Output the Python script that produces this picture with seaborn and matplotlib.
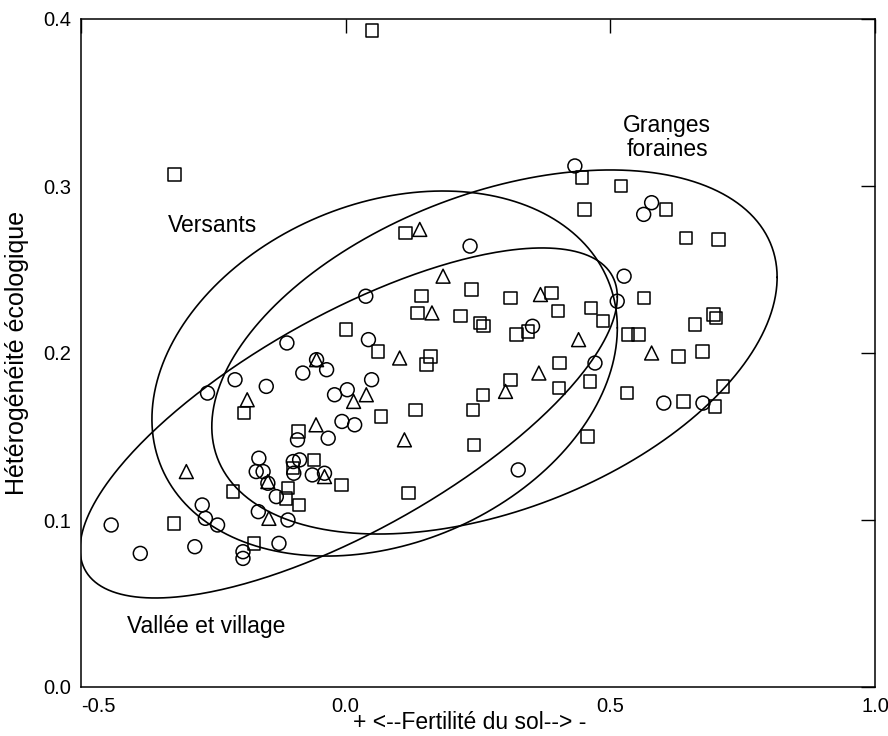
import numpy as np
import pandas as pd
import matplotlib
matplotlib.use('Agg')
import matplotlib.pyplot as plt
import seaborn as sns

# points
circle_x = [0.433, 0.578, 0.563, 0.235, 0.526, 0.038, 0.513, 0.353, 0.043, -0.111,
            -0.055, -0.081, -0.036, -0.209, -0.150, -0.261, 0.049, -0.021, 0.003, 0.471,
            0.601, 0.675, -0.091, -0.033, -0.007, 0.017, -0.164, -0.169, -0.156, -0.099,
            -0.087, -0.098, -0.063, -0.040, -0.131, -0.271, -0.165, -0.109, -0.265, -0.242,
            -0.443, -0.126, -0.285, -0.388, -0.194, -0.194, 0.326, -0.147]
circle_y = [0.312, 0.290, 0.283, 0.264, 0.246, 0.234, 0.231, 0.216, 0.208, 0.206,
            0.196, 0.188, 0.190, 0.184, 0.180, 0.176, 0.184, 0.175, 0.178, 0.194,
            0.170, 0.170, 0.148, 0.149, 0.159, 0.157, 0.137, 0.129, 0.129, 0.135,
            0.136, 0.128, 0.127, 0.128, 0.114, 0.109, 0.105, 0.100, 0.101, 0.097,
            0.097, 0.086, 0.084, 0.080, 0.081, 0.077, 0.130, 0.122]

square_x = [0.050, -0.323, 0.113, 0.446, 0.520, 0.451, 0.605, 0.643, 0.704, 0.143,
            0.238, 0.311, 0.389, 0.136, 0.217, 0.254, 0.260, 0.401, 0.464, 0.486,
            0.564, 0.001, 0.323, 0.345, 0.533, 0.553, 0.660, 0.695, 0.700, 0.061,
            0.160, 0.153, 0.629, 0.674, 0.404, 0.311, 0.259, 0.241, 0.067, 0.132,
            0.403, 0.462, 0.532, 0.638, 0.698, 0.713, -0.192, -0.089, 0.242, 0.457,
            -0.060, -0.099, -0.109, -0.113, -0.088, -0.008, 0.119, -0.213, -0.324, -0.173]
square_y = [0.393, 0.307, 0.272, 0.305, 0.300, 0.286, 0.286, 0.269, 0.268, 0.234,
            0.238, 0.233, 0.236, 0.224, 0.222, 0.218, 0.216, 0.225, 0.227, 0.219,
            0.233, 0.214, 0.211, 0.213, 0.211, 0.211, 0.217, 0.223, 0.221, 0.201,
            0.198, 0.193, 0.198, 0.201, 0.194, 0.184, 0.175, 0.166, 0.162, 0.166,
            0.179, 0.183, 0.176, 0.171, 0.168, 0.180, 0.164, 0.153, 0.145, 0.150,
            0.136, 0.131, 0.119, 0.113, 0.109, 0.121, 0.116, 0.117, 0.098, 0.086]

triangle_x = [0.140, 0.184, 0.163, 0.368, 0.440, 0.578, 0.102, -0.055, 0.015, 0.039,
              -0.186, 0.365, 0.302, -0.056, 0.111, -0.301, -0.147, -0.040, -0.145]
triangle_y = [0.274, 0.246, 0.224, 0.235, 0.208, 0.200, 0.197, 0.196, 0.171, 0.175,
              0.172, 0.188, 0.177, 0.157, 0.148, 0.129, 0.123, 0.126, 0.101]

# group ellipses: centre, half extent in x and y, correlation
ell_names = ['Vallée et village', 'Versants', 'Granges foraines']
ell_cx = [0.0057, 0.0736, 0.2811]
ell_cy = [0.1581, 0.1877, 0.2006]
ell_sx = [0.5075, 0.4396, 0.534]
ell_sy = [0.1048, 0.1093, 0.109]
ell_rho = [0.72, 0.25, 0.41]

x_ticks = [-0.5, 0.0, 0.5, 1.0]
x_ticklabels = ['-0.5', '0.0', '0.5', '1.0']
y_ticks = [0.0, 0.1, 0.2, 0.3, 0.4]
y_ticklabels = ['0.0', '0.1', '0.2', '0.3', '0.4']

sns.set_theme(style='white')
plt.rcParams['font.family'] = ['Liberation Sans', 'DejaVu Sans']

fig = plt.figure(figsize=(8.88, 7.36), dpi=100)
ax = fig.add_axes([81/888, 49/736, 794/888, 668/736])

groups = [
    (circle_x, circle_y, 'o', 100),
    (square_x, square_y, 's', 80),
    (triangle_x, triangle_y, '^', 100),
]
for gx, gy, mk, size in groups:
    df = pd.DataFrame({'x': gx, 'y': gy})
    sns.scatterplot(data=df, x='x', y='y', marker=mk, s=size,
                    facecolors='none', edgecolor='black', linewidth=1.1, ax=ax)
for coll in ax.collections:
    coll.set_facecolor('none')
    coll.set_edgecolor('black')

t = np.linspace(0, 2 * np.pi, 400)
for cx, cy, sx, sy, r in zip(ell_cx, ell_cy, ell_sx, ell_sy, ell_rho):
    ex = cx + sx * np.cos(t)
    ey = cy + sy * (r * np.cos(t) + np.sqrt(1 - r * r) * np.sin(t))
    ax.plot(ex, ey, color='black', lw=1.2)

ax.text(-0.336, 0.2725, 'Versants', fontsize=16.5, color='black')
ax.text(0.6075, 0.329, 'Granges\nforaines', ha='center', va='center',
        fontsize=16.5, linespacing=1.1, color='black')
ax.text(-0.413, 0.0323, 'Vallée et village', fontsize=16.5, color='black')

ax.set_xlim(-0.5, 1.0)
ax.set_ylim(0, 0.4)
ax.set_xticks(x_ticks)
ax.set_xticklabels(x_ticklabels)
ax.set_yticks(y_ticks)
ax.set_yticklabels(y_ticklabels)
ax.tick_params(direction='in', length=10, width=1.0, top=True, right=True,
               labelsize=14.5, pad=7, color='black', labelcolor='black')
ax.get_xticklabels()[0].set_ha('left')
for sp in ax.spines.values():
    sp.set_color('black')
    sp.set_linewidth(1.1)

ax.set_xlabel('+ <--Fertilité du sol--> -', fontsize=16.5, color='black')
ax.xaxis.set_label_coords(0.49, -0.036)
ax.set_ylabel('Hétérogénéité écologique', fontsize=18, color='black')
ax.yaxis.set_label_coords(-0.066, 0.5)

plt.savefig('out.png', dpi=100)
